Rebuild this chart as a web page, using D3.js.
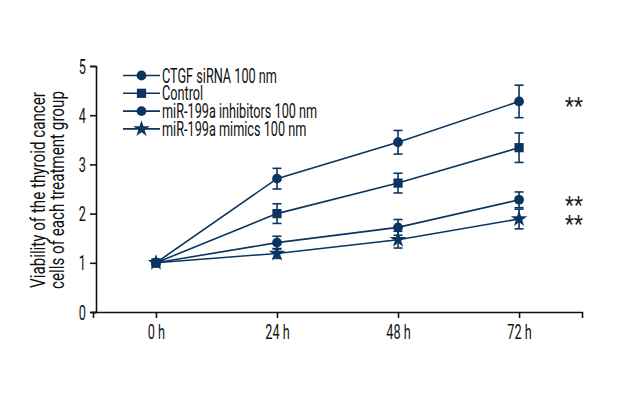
<!DOCTYPE html>
<html><head><meta charset="utf-8">
<script src="https://cdn.jsdelivr.net/npm/d3@7"></script>
<style>
body{margin:0;background:#fff;}
text{font-family:Roboto,"Noto Sans",sans-serif;fill:#111;}
</style></head>
<body><svg id="c" width="640" height="400"></svg>
<script>
const timeLabels = ["0 h","24 h","48 h","72 h"];
const seriesNames = ["CTGF siRNA 100 nm","Control","miR-199a inhibitors 100 nm","miR-199a mimics 100 nm"];
const seriesSymbols = ["circle","square","circle","star"];
const ctgfVals = [1.0, 2.71, 3.45, 4.28];
const ctgfErr  = [0, 0.21, 0.24, 0.33];
const controlVals = [1.0, 2.0, 2.62, 3.34];
const controlErr  = [0, 0.2, 0.2, 0.3];
const inhibVals = [1.0, 1.41, 1.72, 2.28];
const inhibErr  = [0, 0.13, 0.16, 0.16];
const mimicVals = [1.0, 1.19, 1.47, 1.89];
const mimicErr  = [0, 0.1, 0.17, 0.2];
const sigMarks = ["**","","**","**"];
const yTicks = [0,1,2,3,4,5];
const yTitle = ["Viability of the thyroid cancer","cells of each treatment group"];

const series = [ctgfVals, controlVals, inhibVals, mimicVals].map((v,i)=>({
  name: seriesNames[i], sym: seriesSymbols[i], vals: v,
  err: [ctgfErr, controlErr, inhibErr, mimicErr][i], sig: sigMarks[i]
}));

const color = "#0b3561";
const svg = d3.select("#c");
const x = d3.scaleLinear().domain([-0.52, 3.52]).range([93, 582]);
const y = d3.scaleLinear().domain([0, 5]).range([312, 66]);

function measure(str, size){
  const t = svg.append("text").style("font-size",size+"px").text(str);
  const w = t.node().getComputedTextLength(); t.remove(); return w;
}
const FS = 20;
const sx = 115 / measure(seriesNames[0], FS);
const FT = 19.5;
const sxT = 196 / measure(yTitle[0], FT);

function label(g, px, py, str, size, anchor, scale, rot){
  return g.append("text")
    .attr("transform",`translate(${px},${py}) rotate(${rot||0}) scale(${scale},1)`)
    .attr("text-anchor",anchor).style("font-size",size+"px").text(str);
}

const xAxis = svg.append("g").attr("transform","translate(0,312)")
  .call(d3.axisBottom(x).tickValues([0,1,2,3]).tickFormat(i=>timeLabels[i]).tickSizeOuter(0).tickSize(6));
const yAxis = svg.append("g").attr("transform","translate(96,0)")
  .call(d3.axisLeft(y).tickValues(yTicks).tickFormat(d3.format("d")).tickSizeOuter(0).tickSize(6));
[xAxis,yAxis].forEach(g=>{
  g.selectAll("path,line").attr("stroke","#111").attr("stroke-width",1.6);
});
xAxis.selectAll(".tick text").attr("y",null).attr("dy",null)
  .attr("transform",`translate(0,26.5) scale(${sx},1)`).style("font-size",FS+"px").attr("fill","#111");
yAxis.selectAll(".tick text").attr("x",null).attr("dy",null)
  .attr("transform",`translate(-10,7) scale(${sx},1)`).style("font-size",FS+"px").attr("fill","#111");

yTitle.forEach((t,i)=>label(svg, 44.5 + i*19.5, 190, t, FT, "middle", sxT, -90));

const line = d3.line().x((d,i)=>x(i)).y(d=>y(d));
const symType = {circle:d3.symbolCircle, square:d3.symbolSquare, star:d3.symbolStar};
const symSize = {circle:75, square:85, star:85};

series.forEach(s=>{
  svg.append("path").datum(s.vals).attr("d",line)
    .attr("fill","none").attr("stroke",color).attr("stroke-width",1.6);
});
series.forEach(s=>{
  s.vals.forEach((v,i)=>{
    const e = s.err[i];
    if(e>0){
      const cx = x(i);
      const g = svg.append("g").attr("stroke",color).attr("stroke-width",1.6);
      g.append("line").attr("x1",cx).attr("x2",cx).attr("y1",y(v+e)).attr("y2",y(v-e));
      g.append("line").attr("x1",cx-4.5).attr("x2",cx+4.5).attr("y1",y(v+e)).attr("y2",y(v+e));
      g.append("line").attr("x1",cx-4.5).attr("x2",cx+4.5).attr("y1",y(v-e)).attr("y2",y(v-e));
    }
    svg.append("path").attr("d",d3.symbol(symType[s.sym], symSize[s.sym])())
      .attr("transform",`translate(${x(i)},${y(v)})`).attr("fill",color);
  });
  if(s.sig){
    label(svg, x(3)+46, y(s.vals[3])+13, s.sig, 23, "start", 0.9, 0).style("fill","#222");
  }
});

const leg = svg.append("g");
series.forEach((s,i)=>{
  const ly = 75.5 + i*17.8;
  leg.append("line").attr("x1",123).attr("x2",160).attr("y1",ly).attr("y2",ly)
    .attr("stroke",color).attr("stroke-width",1.6);
  leg.append("path").attr("d",d3.symbol(symType[s.sym], symSize[s.sym])())
    .attr("transform",`translate(141.5,${ly})`).attr("fill",color);
  label(leg, 162, ly+7, s.name, FS, "start", sx, 0);
});
</script></body></html>
